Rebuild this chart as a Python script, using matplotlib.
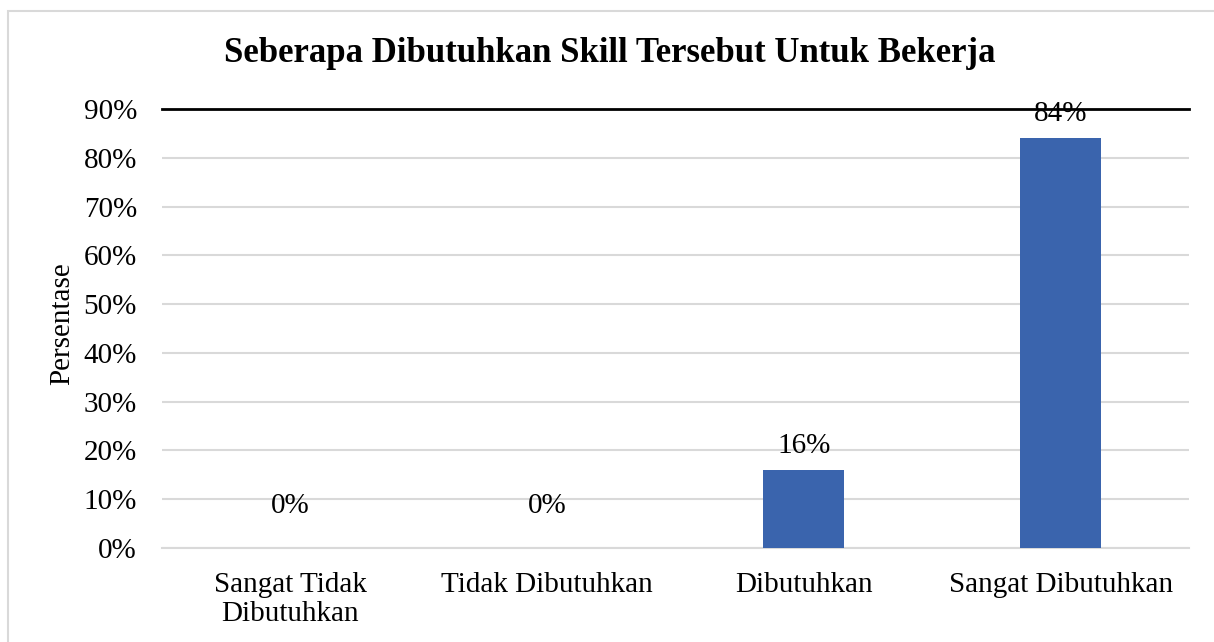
import matplotlib.pyplot as plt
from matplotlib.patches import Rectangle

categories = ["Sangat Tidak\nDibutuhkan", "Tidak Dibutuhkan", "Dibutuhkan", "Sangat Dibutuhkan"]
values = [0, 0, 16, 84]
y_ticks = [0, 10, 20, 30, 40, 50, 60, 70, 80, 90]

plt.rcParams["font.family"] = ["Liberation Serif", "DejaVu Serif"]

W, H = 1214, 642
fig = plt.figure(figsize=(W / 100, H / 100), dpi=100)
ax = fig.add_axes([162 / W, 1 - 548 / H, (1189 - 162) / W, (548 - 109) / H])

# outer chart border (only left and top visible)
fig.add_artist(Rectangle((8 / W, -0.1), 1.2, 1 - 11 / H + 0.1, transform=fig.transFigure,
                         fill=False, edgecolor="#d9d9d9", linewidth=1.5))

x = range(len(categories))
ax.bar(x, values, width=0.316, color="#3a64ad", zorder=3)
for xi, v in zip(x, values):
    off = 21 if v == 0 else 8
    ax.annotate(f"{v}%", (xi, v), xytext=(0, off), textcoords="offset points",
                ha="center", va="bottom", fontsize=21, zorder=4)

ax.set_xlim(-0.5, len(categories) - 0.5)
ax.set_ylim(0, 90)
ax.set_yticks(y_ticks)
ax.set_yticklabels([f"{t}%" for t in y_ticks], fontsize=21)
ax.set_xticks(list(x))
ax.set_xticklabels(categories, fontsize=21, linespacing=1.15)
ax.tick_params(axis="x", length=0, pad=17)
ax.tick_params(axis="y", length=0, pad=18)
ax.grid(axis="y", color="#d9d9d9", linewidth=1.5, zorder=0)
for s in ["left", "right"]:
    ax.spines[s].set_visible(False)
ax.spines["top"].set_color("black")
ax.spines["top"].set_linewidth(2)
ax.spines["bottom"].set_color("#d9d9d9")
ax.spines["bottom"].set_linewidth(1.5)

ax.set_ylabel("Persentase", fontsize=21)
ax.yaxis.set_label_coords(-(162 - 75) / (1189 - 162), 0.51)
fig.text(610 / W, 1 - 53 / H, "Seberapa Dibutuhkan Skill Tersebut Untuk Bekerja",
         ha="center", va="center", fontsize=25, fontweight="bold")

fig.savefig("out.png", dpi=100)
